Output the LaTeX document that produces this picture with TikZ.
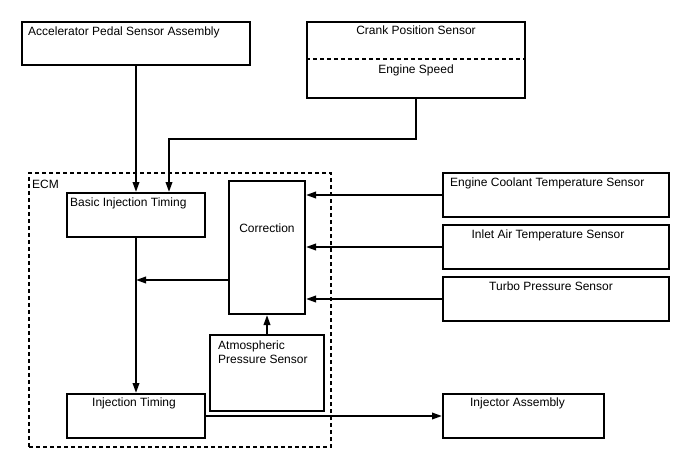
\documentclass[tikz,border=0pt]{standalone}
\usepackage{fontspec}
\setmainfont{Liberation Sans}
\usepackage{tikz}
\usetikzlibrary{positioning, arrows.meta}

\begin{document}
\begin{tikzpicture}[x=1pt, y=-1pt, >={Triangle[length=10pt, width=6.5pt]},
    box/.style={draw, rectangle, line width=2pt, anchor=north west, inner sep=0pt},
    dashes/.style={line width=2pt, dash pattern=on 4pt off 3pt},
    txt/.style={inner sep=0pt, font=\fontsize{12}{14}\selectfont, align=left},
    link/.style={line width=2pt}]
    \useasboundingbox (0,0) rectangle (688,463);

    % Nodes
    \node [box, dashes, minimum width=302pt, minimum height=274pt] (ecm) at (28,172) {};
    \node [box, minimum width=228pt, minimum height=43pt] (pedal) at (21,21) {};
    \node [box, minimum width=218pt, minimum height=76pt] (crank) at (306,21) {};
    \node [box, minimum width=138pt, minimum height=44pt] (basic) at (66,192) {};
    \node [box, minimum width=76pt, minimum height=133pt] (corr) at (228,180) {};
    \node [box, minimum width=114pt, minimum height=76pt] (atm) at (209,334) {};
    \node [box, minimum width=138pt, minimum height=44pt] (inj) at (66,393) {};
    \node [box, minimum width=226pt, minimum height=44pt] (ect) at (442,172) {};
    \node [box, minimum width=226pt, minimum height=44pt] (iat) at (442,224) {};
    \node [box, minimum width=226pt, minimum height=44pt] (turbo) at (442,276) {};
    \node [box, minimum width=161pt, minimum height=44pt] (injector) at (442,393) {};

    % Labels
    \node [txt, below right=8pt and 4pt of ecm.north west] (ecmlabel) {ECM};
    \node [txt, below right=6pt and 7pt of pedal.north west] (pedallabel) {Accelerator Pedal Sensor Assembly};
    \node [txt, below=5pt of crank.north] (cranklabel) {Crank Position Sensor};
    \node [txt, below=44pt of crank.north] (speedlabel) {Engine Speed};
    \node [txt, below right=6pt and 4pt of basic.north west] (basiclabel) {Basic Injection Timing};
    \node [txt, below=44pt of corr.north] (corrlabel) {Correction};
    \node [txt, below right=7pt and 9pt of atm.north west] (atmlabel) {Atmospheric\\Pressure Sensor};
    \node [txt, below=5pt of inj.north, xshift=-2pt] (injlabel) {Injection Timing};
    \node [txt, below right=6pt and 8pt of ect.north west] (ectlabel) {Engine Coolant Temperature Sensor};
    \node [txt, below=6pt of iat.north, xshift=-8pt] (iatlabel) {Inlet Air Temperature Sensor};
    \node [txt, below=6pt of turbo.north, xshift=-5pt] (turbolabel) {Turbo Pressure Sensor};
    \node [txt, below=5pt of injector.north, xshift=-6pt] (injectorlabel) {Injector Assembly};

    % Helper points
    \coordinate (split) at (415,59);
    \coordinate (bend) at (169,139);
    \coordinate (merge) at (136,280);

    % Divider
    \draw [dashes] (crank.west |- split) -- (crank.east |- split);

    % Arrows
    \draw [link, ->] (pedal.south) -- (basic.north);
    \draw [link, ->] (crank.south) |- (bend) -- (bend |- basic.north);
    \draw [link, ->] (basic.south) -- (inj.north);
    \draw [link, ->] (ect.west) -- (ect.west -| corr.east);
    \draw [link, ->] (iat.west) -- (iat.west -| corr.east);
    \draw [link, ->] (turbo.west) -- (turbo.west -| corr.east);
    \draw [link, ->] (corr.west |- merge) -- (merge);
    \draw [link, ->] (atm.north) -- (corr.south);
    \draw [link, ->] (inj.east) -- (injector.west);

\end{tikzpicture}
\end{document}
